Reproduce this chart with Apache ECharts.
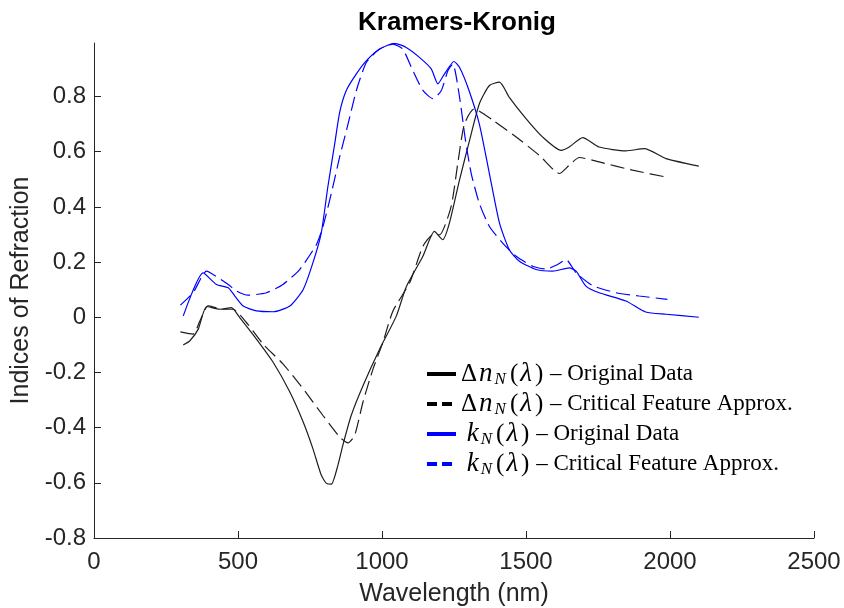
<!DOCTYPE html>
<html>
<head>
<meta charset="utf-8">
<script src="https://cdn.jsdelivr.net/npm/echarts@6/dist/echarts.min.js"></script>
<style>
  html, body { margin: 0; padding: 0; background: #fff; }
  #chart { width: 844px; height: 608px; }
</style>
</head>
<body>
<div id="chart"></div>
<script>
// Δn_N(λ), original data
const dnOrigX = [310, 333, 362, 391, 437, 477, 506, 564, 622, 680, 726, 760, 789, 807, 824, 847, 864, 893, 934, 992, 1050, 1084, 1142, 1182, 1211, 1234, 1269, 1304, 1338, 1373, 1408, 1442, 1500, 1558, 1622, 1650, 1697, 1754, 1847, 1911, 1986, 2100];
const dnOrigY = [-0.10, -0.085, -0.043, 0.039, 0.029, 0.035, -0.001, -0.079, -0.163, -0.271, -0.379, -0.476, -0.572, -0.602, -0.605, -0.536, -0.464, -0.356, -0.248, -0.115, 0.005, 0.11, 0.221, 0.311, 0.281, 0.341, 0.497, 0.641, 0.774, 0.84, 0.852, 0.797, 0.72, 0.653, 0.605, 0.617, 0.651, 0.617, 0.603, 0.611, 0.575, 0.548];

// Δn_N(λ), critical feature approximation
const dnApproxX = [300, 344, 368, 396, 448, 483, 529, 587, 656, 726, 795, 853, 882, 905, 934, 969, 1003, 1038, 1096, 1142, 1177, 1200, 1240, 1263, 1286, 1320, 1385, 1466, 1546, 1616, 1650, 1685, 1754, 1870, 1997];
const dnApproxY = [-0.053, -0.061, -0.013, 0.041, 0.029, 0.029, -0.019, -0.097, -0.169, -0.259, -0.356, -0.434, -0.455, -0.428, -0.307, -0.187, -0.091, 0.023, 0.125, 0.257, 0.299, 0.299, 0.401, 0.557, 0.70, 0.755, 0.714, 0.653, 0.587, 0.521, 0.551, 0.579, 0.563, 0.533, 0.506];

// k_N(λ), original data
const kOrigX = [310, 379, 425, 466, 489, 518, 564, 622, 680, 726, 760, 789, 812, 836, 853, 876, 911, 946, 992, 1044, 1084, 1130, 1171, 1194, 1217, 1250, 1269, 1300, 1338, 1373, 1408, 1442, 1477, 1535, 1593, 1650, 1674, 1708, 1754, 1847, 1916, 1986, 2100];
const kOrigY = [0.005, 0.161, 0.119, 0.107, 0.077, 0.041, 0.023, 0.02, 0.041, 0.10, 0.197, 0.305, 0.473, 0.63, 0.743, 0.822, 0.882, 0.93, 0.972, 0.993, 0.978, 0.942, 0.9, 0.846, 0.882, 0.927, 0.906, 0.828, 0.70, 0.52, 0.341, 0.245, 0.203, 0.173, 0.167, 0.179, 0.167, 0.113, 0.089, 0.059, 0.019, 0.011, 0.0];

// k_N(λ), critical feature approximation
const kApproxX = [300, 344, 391, 431, 466, 495, 535, 599, 656, 714, 772, 795, 824, 853, 882, 911, 946, 992, 1038, 1072, 1102, 1142, 1177, 1206, 1229, 1246, 1269, 1290, 1310, 1338, 1373, 1419, 1466, 1523, 1570, 1610, 1639, 1674, 1731, 1812, 1893, 1991];
const kApproxY = [0.044, 0.089, 0.167, 0.143, 0.119, 0.095, 0.08, 0.089, 0.119, 0.173, 0.263, 0.329, 0.449, 0.581, 0.70, 0.822, 0.924, 0.972, 0.99, 0.972, 0.906, 0.822, 0.792, 0.822, 0.894, 0.918, 0.80, 0.64, 0.52, 0.413, 0.329, 0.269, 0.221, 0.185, 0.175, 0.191, 0.209, 0.161, 0.115, 0.089, 0.077, 0.065];

// Axis ticks
const xTicks = [0, 500, 1000, 1500, 2000, 2500];
const yTicks = [-0.8, -0.6, -0.4, -0.2, 0, 0.2, 0.4, 0.6, 0.8];

// Legend entries: quantity symbol and description
const legendSymbols = ['dn', 'dn', 'k', 'k'];
const legendTexts = ['Original Data', 'Critical Feature Approx.', 'Original Data', 'Critical Feature Approx.'];
const seriesNames = legendSymbols.map((s, i) => (s === 'dn' ? 'Δn_N(λ)' : 'k_N(λ)') + ' – ' + legendTexts[i]);

const pairs = (xs, ys) => xs.map((x, i) => [x, ys[i]]);

const ink = '#262626';
const black = '#1e1e1e';
const blue = '#0000ff';
const dash = [14, 6];
const seriesColors = ['#000', '#000', blue, blue];
const seriesDashed = [false, true, false, true];

// Legend block (drawn as graphic rows so the math notation can be typeset with rich text)
const legendLeft = 427;
const legendTop = 374;
const legendRow = 30;
const mathRich = {
  up: { fontFamily: 'Liberation Serif', fontSize: 25, fill: '#000', padding: [0, 1, 0, 1] },
  it: { fontFamily: 'Liberation Serif', fontStyle: 'italic', fontSize: 27, fill: '#000', padding: [0, 2, 0, 1] },
  sub: { fontFamily: 'Liberation Serif', fontStyle: 'italic', fontSize: 17, fill: '#000', padding: [12, 3, 0, 0] },
  txt: { fontFamily: 'Liberation Serif', fontSize: 23, fill: '#000' }
};
function mathHead(sym) {
  return sym === 'dn'
    ? '{up|Δ}{it|n}{sub|N}{up|(}{it|λ}{up|)}'
    : '{txt| }{it|k}{sub|N}{up|(}{it|λ}{up|)}';
}
const legendGraphics = [];
legendSymbols.forEach((sym, i) => {
  const y = legendTop + i * legendRow;
  legendGraphics.push({
    type: 'line',
    shape: { x1: legendLeft, y1: y, x2: legendLeft + 29, y2: y },
    style: {
      stroke: seriesColors[i],
      lineWidth: 4,
      lineDash: seriesDashed[i] ? [10, 5] : null
    },
    silent: true
  });
  legendGraphics.push({
    type: 'text',
    x: legendLeft + 33,
    y: y,
    style: {
      text: mathHead(sym) + '{txt| – ' + legendTexts[i] + '}',
      rich: mathRich,
      verticalAlign: 'middle',
      align: 'left'
    },
    silent: true
  });
});

const chart = echarts.init(document.getElementById('chart'), null, { renderer: 'canvas' });

const option = {
  animation: false,
  backgroundColor: '#fff',
  grid: { left: 94, right: 30, top: 43, bottom: 70, containLabel: false, outerBoundsMode: 'none' },
  graphic: [{
    type: 'text',
    x: 457,
    y: 23,
    style: {
      text: 'Kramers-Kronig',
      align: 'center',
      verticalAlign: 'middle',
      fontFamily: 'Liberation Sans',
      fontWeight: 'bold',
      fontSize: 26,
      fill: '#000'
    }
  }].concat(legendGraphics),
  xAxis: {
    type: 'value',
    min: 0,
    max: 2500,
    interval: 500,
    name: 'Wavelength (nm)',
    nameLocation: 'middle',
    nameGap: 44,
    nameTextStyle: { fontFamily: 'Liberation Sans', fontSize: 25, color: ink },
    axisLine: { show: true, onZero: false, lineStyle: { color: ink, width: 1 } },
    axisTick: { show: true, inside: true, length: 7, lineStyle: { color: ink } },
    axisLabel: {
      fontFamily: 'Liberation Sans', fontSize: 24, color: ink, margin: 12,
      customValues: xTicks,
      formatter: v => String(Math.round(v))
    },
    splitLine: { show: false }
  },
  yAxis: {
    type: 'value',
    min: -0.8,
    max: 0.994,
    name: 'Indices of Refraction',
    nameLocation: 'middle',
    nameGap: 58,
    nameTextStyle: { fontFamily: 'Liberation Sans', fontSize: 25, color: ink },
    axisLine: { show: true, onZero: false, lineStyle: { color: ink, width: 1 } },
    axisTick: { show: true, inside: true, length: 7, lineStyle: { color: ink }, customValues: yTicks },
    axisLabel: {
      fontFamily: 'Liberation Sans', fontSize: 24, color: ink, margin: 8,
      customValues: yTicks,
      formatter: v => {
        const r = Math.round(v * 10) / 10;
        return r === 0 ? '0' : r.toFixed(1);
      }
    },
    splitLine: { show: false }
  },
  series: [
    {
      name: seriesNames[0], type: 'line', data: pairs(dnOrigX, dnOrigY),
      symbol: 'none', smooth: 0.2, lineStyle: { color: black, width: 1.2 }
    },
    {
      name: seriesNames[1], type: 'line', data: pairs(dnApproxX, dnApproxY),
      symbol: 'none', smooth: 0.2, lineStyle: { color: black, width: 1.2, type: dash }
    },
    {
      name: seriesNames[2], type: 'line', data: pairs(kOrigX, kOrigY),
      symbol: 'none', smooth: 0.2, lineStyle: { color: blue, width: 1.2 }
    },
    {
      name: seriesNames[3], type: 'line', data: pairs(kApproxX, kApproxY),
      symbol: 'none', smooth: 0.2, lineStyle: { color: blue, width: 1.2, type: dash }
    }
  ]
};

chart.setOption(option);
</script>
</body>
</html>
